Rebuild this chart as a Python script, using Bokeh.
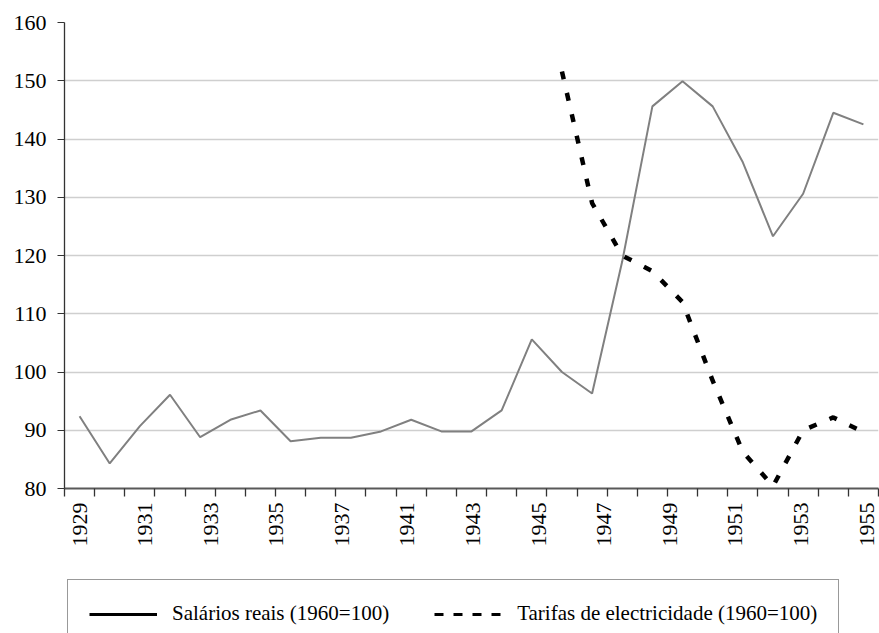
import numpy as np
from bokeh.plotting import figure
from bokeh.layouts import column
from bokeh.models import (FixedTicker, Legend, LegendItem, CustomJSTickFormatter,
                          Range1d)
from bokeh.embed import file_html
from bokeh.resources import INLINE

# ---------------- data ----------------
years = list(range(1929, 1956))
salarios = [92.4, 84.3, 90.7, 96.1, 88.8, 91.8, 93.4, 88.1, 88.7, 88.7,
            89.8, 91.8, 89.8, 89.8, 93.4, 105.6, 100.0, 96.3, 119.0, 145.6,
            149.9, 145.6, 136.0, 123.3, 130.6, 144.5, 142.5]
tarifa_years = list(range(1945, 1956))
tarifas = [151.6, 129.0, 120.0, 117.3, 112.0, 98.5, 86.3, 80.4, 90.0, 92.2, 89.7]
x_labels = ["1929", "1931", "1933", "1935", "1937", "1941", "1943",
            "1945", "1947", "1949", "1951", "1953", "1955"]
y_ticks = [80, 90, 100, 110, 120, 130, 140, 150, 160]
label_sal = "Salários reais (1960=100)"
label_tar = "Tarifas de electricidade (1960=100)"

FONT = "Liberation Serif"
W = 879
H_PLOT = 575
H_LEG = 633 - H_PLOT

p = figure(width=W, height=H_PLOT, output_backend="svg", toolbar_location=None,
           min_border_left=64, min_border_right=1, min_border_top=22,
           min_border_bottom=87,
           x_range=Range1d(years[0] - 0.5, years[-1] + 0.5),
           y_range=Range1d(y_ticks[0], y_ticks[-1]))
p.outline_line_color = None
p.background_fill_color = "white"
p.border_fill_color = "white"

# grid
p.xgrid.visible = False
p.ygrid.grid_line_color = "#cfcfcf"
p.ygrid.grid_line_width = 1.3

# y axis
p.yaxis.ticker = FixedTicker(ticks=y_ticks)
p.yaxis.axis_line_color = "#333333"
p.yaxis.axis_line_width = 1.3
p.yaxis.major_tick_line_color = "#333333"
p.yaxis.major_tick_out = 7
p.yaxis.major_tick_in = 0
p.yaxis.minor_tick_line_color = None
p.yaxis.major_label_standoff = 11
p.yaxis.major_label_text_font = FONT
p.yaxis.major_label_text_font_size = "22px"
p.yaxis.major_label_text_color = "black"

# x axis: boundary ticks as minor ticks, spread labels as (hidden) major ticks
step = (len(years) - 1) * 1.004 / (len(x_labels) - 1)
label_pos = [years[0] + k * step for k in range(len(x_labels))]
bounds = [y - 0.5 for y in years] + [years[-1] + 0.5]
p.xaxis.ticker = FixedTicker(ticks=label_pos, minor_ticks=bounds)
p.xaxis.formatter = CustomJSTickFormatter(args=dict(labs=x_labels),
                                          code="return labs[index];")
p.xaxis.axis_line_color = "#595959"
p.xaxis.axis_line_width = 2.2
p.xaxis.major_tick_line_color = None
p.xaxis.major_tick_out = 8
p.xaxis.major_tick_in = 0
p.xaxis.minor_tick_line_color = "#333333"
p.xaxis.minor_tick_line_width = 1.3
p.xaxis.minor_tick_out = 8
p.xaxis.minor_tick_in = 0
p.xaxis.major_label_orientation = np.pi / 2
p.xaxis.major_label_standoff = 6
p.xaxis.major_label_text_font = FONT
p.xaxis.major_label_text_font_size = "22px"
p.xaxis.major_label_text_color = "black"

# series
p.line(x=years, y=salarios, line_color="#808080", line_width=2)
p.line(x=tarifa_years, y=tarifas, line_color="black", line_width=4.5,
       line_dash="8 14")

# ---------------- legend strip (box runs past the bottom edge) ----------------
q = figure(width=W, height=H_LEG, output_backend="svg", toolbar_location=None,
           min_border_left=64, min_border_right=1, min_border_top=0,
           min_border_bottom=0, x_axis_location=None, y_axis_location=None,
           x_range=Range1d(0, 1), y_range=Range1d(0, 1))
q.outline_line_color = None
q.xgrid.visible = False
q.ygrid.visible = False
q.background_fill_color = "white"
q.border_fill_color = "white"

# legend stand-in renderers: a single NaN point, so nothing is drawn in the strip
r1 = q.line(x=[np.nan], y=[np.nan], line_color="black", line_width=3)
r2 = q.line(x=[np.nan], y=[np.nan], line_color="black", line_width=3,
            line_dash="9 10")

legend = Legend(items=[LegendItem(label=label_sal, renderers=[r1]),
                       LegendItem(label=label_tar, renderers=[r2])],
                orientation="horizontal", location=(3, -15),
                padding=21, spacing=45, label_standoff=15,
                glyph_width=68, glyph_height=20, label_height=20,
                label_text_font=FONT, label_text_font_size="21px",
                label_text_color="black",
                border_line_color="#333333", border_line_width=1.3,
                background_fill_color="white", background_fill_alpha=1.0,
                margin=0)
q.add_layout(legend, "center")

layout = column(p, q, spacing=0)
open("out.html", "w").write(file_html(layout, INLINE))
